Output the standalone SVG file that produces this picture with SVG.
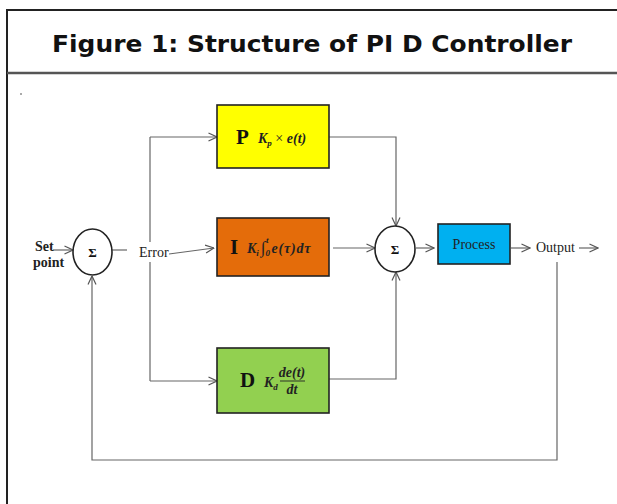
<svg xmlns="http://www.w3.org/2000/svg" width="617" height="504" viewBox="0 0 617 504">
<defs>
<marker id="arr" viewBox="0 0 10 10" refX="9.5" refY="5" markerWidth="10" markerHeight="10" markerUnits="userSpaceOnUse" orient="auto">
<path d="M1,1 L9.5,5 L1,9" fill="none" stroke="#555" stroke-width="1.2"/>
</marker>
<style>
.ln{fill:none;stroke:#666;stroke-width:1.2}
.la{fill:none;stroke:#666;stroke-width:1.2;marker-end:url(#arr)}
.box{stroke:#222;stroke-width:1.6}
.sum{fill:#fff;stroke:#222;stroke-width:1.6}
.sig{font-family:"Liberation Serif",serif;font-weight:bold;font-size:13px;text-anchor:middle;fill:#111}
.lbl{font-family:"Liberation Serif",serif;font-size:14px;fill:#222}
.big{font-family:"Liberation Serif",serif;font-weight:bold;font-size:21px;fill:#111}
.fx{font-family:"Liberation Serif",serif;font-weight:bold;font-style:italic;font-size:14px;fill:#222}
</style>
</defs>
<rect width="617" height="504" fill="#fff"/>
<g id="frame">
<path d="M7,504 V10 H617" fill="none" stroke="#222" stroke-width="2"/>
<line x1="7" y1="73" x2="617" y2="73" stroke="#555" stroke-width="2.5"/>
<rect x="20" y="93" width="2" height="2" fill="#aaa"/>
</g>
<g id="title">
<text x="52" y="52" textLength="520" lengthAdjust="spacingAndGlyphs" font-family="DejaVu Sans, sans-serif" font-weight="bold" font-size="23" fill="#111">Figure 1: Structure of PI D Controller</text>
</g>
<g id="connectors">
<line class="la" x1="53" y1="250" x2="73" y2="250"/>
<line class="ln" x1="112" y1="250" x2="127" y2="250"/>
<line class="la" x1="169" y1="254" x2="214" y2="248"/>
<polyline class="ln" points="150,242 150,137"/>
<line class="la" x1="150" y1="137" x2="217" y2="137"/>
<polyline class="ln" points="150,262 150,381"/>
<line class="la" x1="150" y1="381" x2="217" y2="381"/>
<polyline class="la" points="329,137 396,137 396,226"/>
<line class="la" x1="333" y1="248" x2="375" y2="248"/>
<polyline class="la" points="329,379 396,379 396,272"/>
<line class="la" x1="416" y1="248" x2="434" y2="248"/>
<line class="la" x1="511" y1="248" x2="530" y2="248"/>
<line class="la" x1="579" y1="248" x2="598" y2="248"/>
<polyline class="la" points="557,262 557,460 92,460 92,276"/>
</g>
<g id="setpoint">
<text class="lbl" x="35" y="251" font-weight="bold">Set</text>
<text class="lbl" x="33" y="267" font-weight="bold">point</text>
</g>
<g id="sum1">
<ellipse class="sum" cx="92.5" cy="252" rx="19.5" ry="23"/>
<text class="sig" x="92.5" y="257">Σ</text>
</g>
<g id="error">
<text class="lbl" x="139" y="257">Error</text>
</g>
<g id="P">
<rect class="box" x="217" y="105" width="112" height="63" fill="#ffff00"/>
<text class="big" x="236" y="144">P</text>
<text class="fx" x="258" y="143">K<tspan font-size="9" dy="3">p</tspan><tspan dy="-3" font-style="normal" font-weight="normal"> × </tspan>e(t)</text>
</g>
<g id="I">
<rect class="box" x="217" y="218" width="112" height="58" fill="#e46c0a"/>
<text class="big" x="230" y="254">I</text>
<text class="fx" x="247" y="253">K<tspan font-size="9" dy="3">i</tspan><tspan dy="-3" dx="2" font-style="normal" font-size="17">∫</tspan><tspan font-size="9" dy="3">0</tspan><tspan font-size="9" dx="-4" dy="-13">t</tspan><tspan dy="10" dx="3" letter-spacing="0.8">e(τ)dτ</tspan></text>
</g>
<g id="D">
<rect class="box" x="217" y="348" width="112" height="65" fill="#92d050"/>
<text class="big" x="240" y="387">D</text>
<text class="fx" x="264" y="387">K<tspan font-size="9" dy="3">d</tspan></text>
<text class="fx" x="292" y="377" text-anchor="middle" font-size="12">de(t)</text>
<line x1="280" y1="381" x2="305" y2="381" stroke="#222" stroke-width="0.9"/>
<text class="fx" x="292" y="394" text-anchor="middle" font-size="12">dt</text>
</g>
<g id="sum2">
<ellipse class="sum" cx="395" cy="249" rx="20" ry="23"/>
<text class="sig" x="395" y="254">Σ</text>
</g>
<g id="process">
<rect class="box" x="438" y="224" width="72" height="40" fill="#00b0f0"/>
<text class="lbl" x="474" y="249" text-anchor="middle" font-size="15">Process</text>
</g>
<g id="output">
<text class="lbl" x="536" y="252">Output</text>
</g>
</svg>
